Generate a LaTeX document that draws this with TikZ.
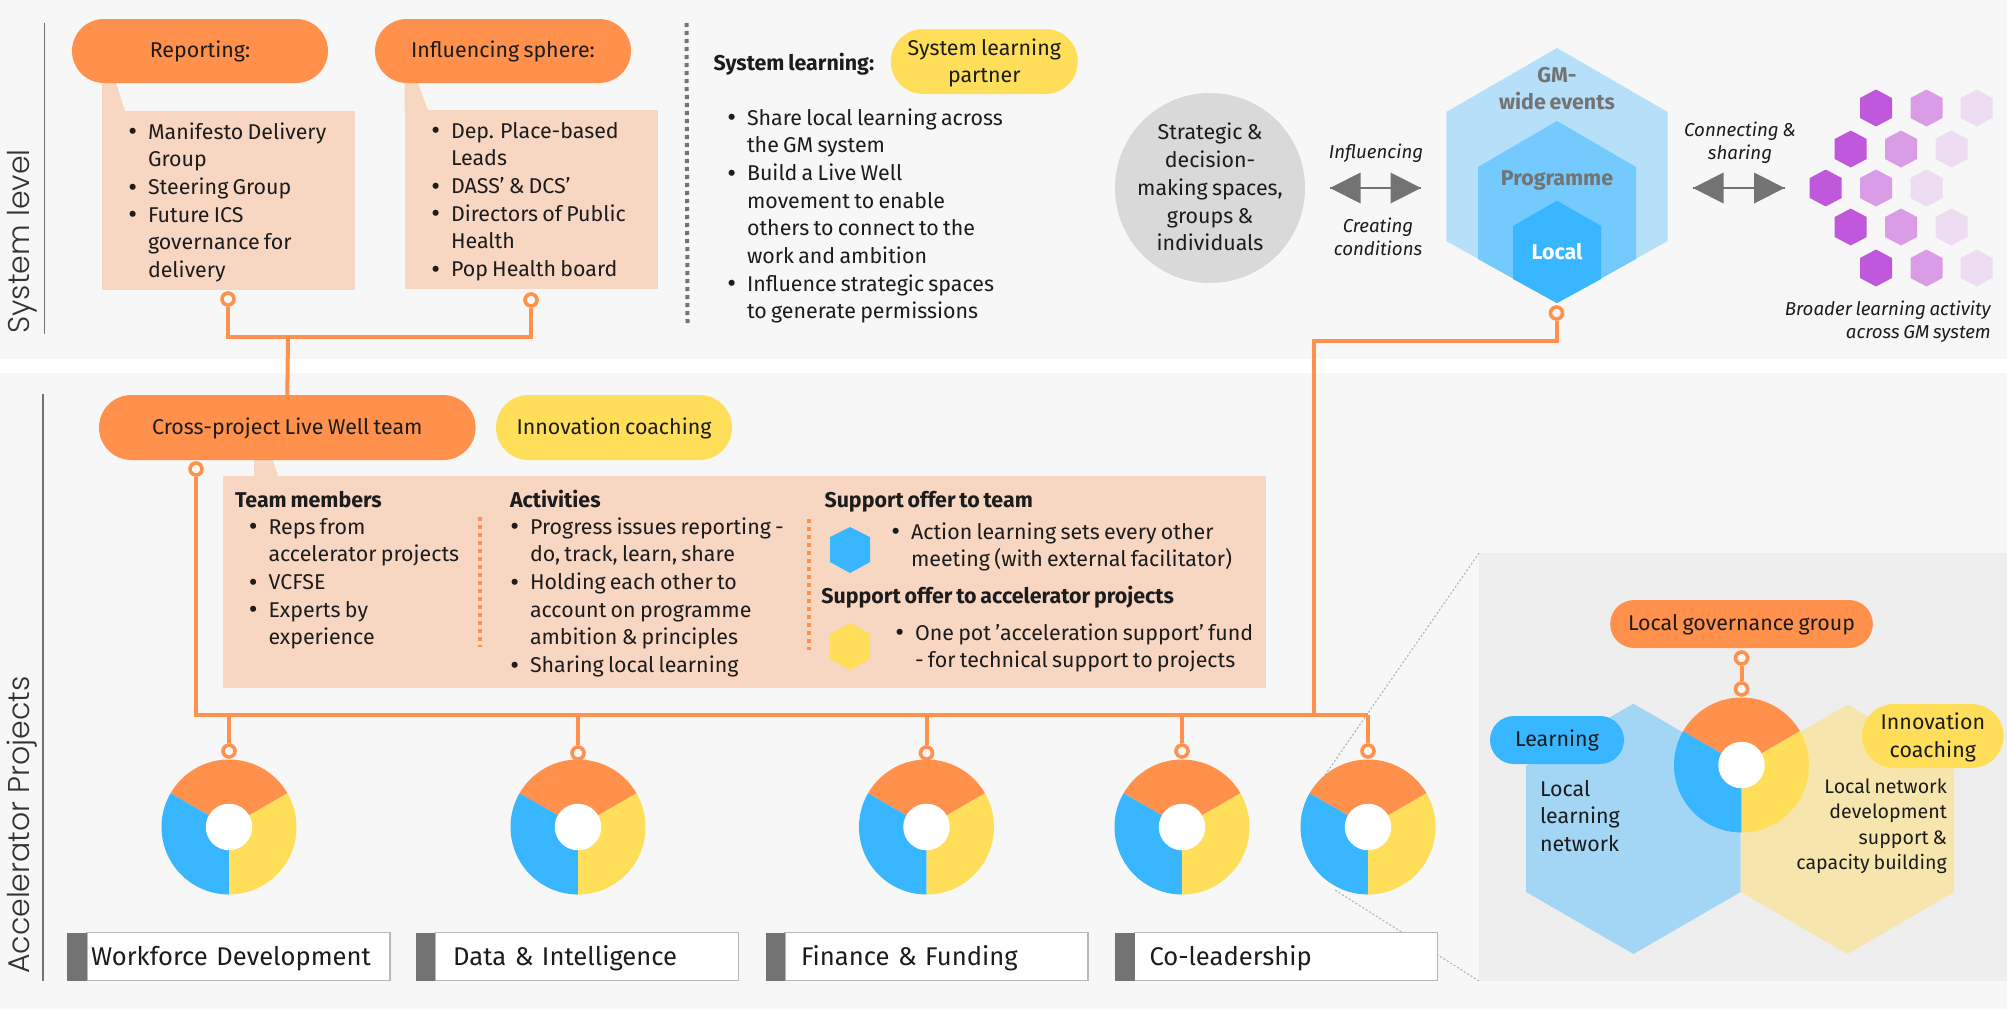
\documentclass[tikz,border=0pt]{standalone}
\usepackage{fontspec}
\setmainfont{Fira Sans}[WordSpace=0.75]
\newfontfamily\sidefont{Poppins Light}
\usetikzlibrary{shapes.misc,calc}
\definecolor{pagebg}{HTML}{F7F7F7}
\definecolor{panelbg}{HTML}{EEEEEE}
\definecolor{org}{HTML}{FF914D}
\definecolor{yel}{HTML}{FFDE59}
\definecolor{blu}{HTML}{38B6FF}
\definecolor{blumid}{HTML}{74C9FD}
\definecolor{blulite}{HTML}{B6DFFA}
\definecolor{notefill}{HTML}{F8D7C2}
\definecolor{gry}{HTML}{737373}
\definecolor{circgry}{HTML}{D9D9D9}
\definecolor{ink}{HTML}{1C1C1C}
\definecolor{pa}{HTML}{C058DC}
\definecolor{pb}{HTML}{DA9CE7}
\definecolor{pc}{HTML}{EEDCF3}
\definecolor{hexb}{HTML}{A3D5F5}
\definecolor{hexy}{HTML}{F6E6AE}
\newcommand{\fs}{\rule{0pt}{18pt}}
\newcommand{\fsi}{\rule{0pt}{16pt}}
\newcommand{\ftwo}{\rule{0pt}{19.3pt}}
\newcommand{\bl}{\llap{\raisebox{-1.6pt}{\fontsize{27}{27}\selectfont\textbullet}\hspace{11pt}}}
% hexagon: cx, top, shoulder, lower shoulder, bottom, half width, colour
\newcommand{\hexa}[7]{\fill[#7] (#1,#2) -- ({#1+#6},#3) -- ({#1+#6},#4) -- (#1,#5) -- ({#1-#6},#4) -- ({#1-#6},#3) -- cycle;}
\newcommand{\donut}[3]{%
  \fill[org] (#1,#2) -- ++(30:67.5 and -67.5) arc[start angle=-30,end angle=-150,radius=67.5] -- cycle;
  \fill[blu] (#1,#2) -- ++(150:67.5 and -67.5) arc[start angle=-150,end angle=-270,radius=67.5] -- cycle;
  \fill[yel] (#1,#2) -- ++(270:67.5 and -67.5) arc[start angle=-270,end angle=-390,radius=67.5] -- cycle;
  \node[hole] (#3) at (#1,#2) {};}
\tikzset{
  body/.style={inner sep=0pt,outer sep=0pt,text=ink,font=\fontsize{21.4}{27.7}\selectfont},
  listtxt/.style={body,anchor=north west,align=left,yshift=3pt},
  headtxt/.style={body,anchor=base west,font=\fontsize{21.4}{27.7}\selectfont\bfseries},
  pill/.style={rounded rectangle,inner sep=0pt,outer sep=0pt,text=ink,font=\fontsize{21.4}{27.7}\selectfont,align=center},
  pillo/.style={pill,fill=org},
  pilly/.style={pill,fill=yel},
  pillb/.style={pill,fill=blu},
  oneline/.style={text height=13.5pt,text depth=0pt},
  note/.style={fill=notefill},
  conn/.style={draw=org,line width=4pt},
  ring/.style={circle,draw=org,line width=3.6pt,fill=pagebg,minimum size=12pt,inner sep=0pt},
  hole/.style={circle,fill=white,minimum size=46.5pt,inner sep=0pt},
  ital/.style={inner sep=0pt,text=ink,font=\fontsize{18.7}{23.3}\selectfont\itshape,align=center,anchor=north,yshift=2.5pt},
  sidelab/.style={inner sep=0pt,text=black!80,font=\sidefont\fontsize{30}{30}\selectfont,rotate=90},
  dblarrow/.style={draw=gry,line width=2pt},
  tri/.style={fill=gry},
  labbox/.style={draw=black!28,line width=1.2pt,fill=white,inner sep=0pt,minimum height=48pt,text width=303pt,align=left,text=ink,font=\fontsize{25.6}{28}\selectfont,text height=17pt,text depth=0pt},
  labbar/.style={fill=gry,inner sep=0pt,minimum width=19.5pt,minimum height=48pt},
  zoomline/.style={draw=black!28,line width=1.2pt,dash pattern=on 2pt off 2pt},
}
\begin{document}
\begin{tikzpicture}[x=1pt,y=-1pt]
\useasboundingbox (0,0) rectangle (2007,1009);
% bands
\fill[pagebg] (0,0) rectangle (2007,359);
\fill[white] (0,359) rectangle (2007,373);
\fill[pagebg] (0,373) rectangle (2007,1009);
% side labels
\node[sidelab] (syslab) at (22,241.5) {System level};
\node[sidelab] (acclab) at (22,825) {Accelerator Projects};
\draw[gry,line width=1.6pt] (44.5,23) -- (44.5,334);
\draw[gry,line width=1.6pt] (43,394) -- (43,981);
% top notes
\fill[note] (102,83) -- (116,83) -- (125,111) -- (102,111) -- cycle;
\fill[note] (404.5,83) -- (418,83) -- (428,110) -- (404.5,110) -- cycle;
\node[note,anchor=north west,inner sep=0pt,minimum width=252.7pt,minimum height=179pt] (noteA) at (101.8,111) {};
\node[note,anchor=north west,inner sep=0pt,minimum width=253.1pt,minimum height=179pt] (noteB) at (404.5,110) {};
\node[pillo,oneline,minimum width=256pt,minimum height=64pt] (report) at (200,51) {Reporting:};
\node[pillo,oneline,minimum width=256pt,minimum height=64pt] (influ) at (503,51) {Influencing sphere:};
\node[listtxt] (listA) at (148,124) {\fs\bl Manifesto Delivery\\Group\\\bl Steering Group\\\bl Future ICS\\governance for\\delivery};
\node[listtxt] (listB) at (451,123) {\fs\bl Dep. Place-based\\Leads\\\bl DASS' \& DCS'\\\bl Directors of Public\\Health\\\bl Pop Health board};
% top connectors
\node[ring] (ra) at (228,299) {};
\node[ring] (rb) at (531,300) {};
\coordinate (tj) at (288,337);
\draw[conn] (ra) -- (ra |- tj) -- (rb |- tj) -- (rb);
% separator
\draw[gry,line width=4pt,dash pattern=on 4pt off 4pt] (686.5,23) -- (687.5,323);
% system learning
\node[headtxt] (syslearn) at (713.5,70) {System learning:};
\node[pilly,minimum width=187pt,minimum height=65pt] (slp) at (984.3,61.5) {\ftwo System learning\\partner};
\node[listtxt] (listC) at (747,110) {\fs\bl Share local learning across\\the GM system\\\bl Build a Live Well\\movement to enable\\others to connect to the\\work and ambition\\\bl Influence strategic spaces\\to generate permissions};
% strategic circle
\node[circle,fill=circgry,minimum size=190pt,inner sep=0pt] (strat) at (1210,188) {};
\node[inner sep=0pt,text=ink,align=center,font=\fontsize{21.4}{27.7}\selectfont] (strattxt) at (strat.center) {Strategic \&\\decision-\\making spaces,\\groups \&\\individuals\rule[-2pt]{0pt}{2pt}};
% hexagons
\hexa{1557}{48}{112}{241}{303}{110.7}{blulite}
\hexa{1557}{121}{167}{259}{303}{79}{blumid}
\hexa{1557}{200.7}{226}{279}{303}{44}{blu}
\node[inner sep=0pt,align=center,text=gry,anchor=north,yshift=3pt,font=\fontsize{21.4}{27.7}\selectfont\bfseries] (gmw) at (1557,67) {\fs GM-\\wide events};
\node[inner sep=0pt,text=gry,anchor=base,font=\fontsize{21.4}{27.7}\selectfont\bfseries] (prog) at (1557,185) {Programme};
\node[inner sep=0pt,text=white,anchor=base,font=\fontsize{21.4}{27.7}\selectfont\bfseries] (loc) at (1557,259) {Local};
% double arrows
\coordinate (a1) at (1330,188); \coordinate (a2) at (1421,188);
\coordinate (a3) at (1693,188); \coordinate (a4) at (1784.5,188);
\draw[dblarrow] (a1) -- (a2);
\draw[dblarrow] (a3) -- (a4);
\fill[tri] (a1) -- ++(30.5,-15.5) -- ++(0,31) -- cycle;
\fill[tri] (a2) -- ++(-30.5,-15.5) -- ++(0,31) -- cycle;
\fill[tri] (a3) -- ++(30.5,-15.5) -- ++(0,31) -- cycle;
\fill[tri] (a4) -- ++(-30.5,-15.5) -- ++(0,31) -- cycle;
\node[ital] (tinf) at (1376,144.5) {\fsi Influencing};
\node[ital] (tcre) at (1378,218.5) {\fsi Creating\\conditions};
\node[ital] (tcon) at (1740,122.5) {\fsi Connecting \&\\sharing};
\node[ital,align=right,anchor=north east] (tbro) at (1991,301.5) {\fsi Broader learning activity\\across GM system};
% purple hexagons
\foreach \cx/\cy/\col in {1876/108/pa,1926.5/108/pb,1976.5/108/pc,
  1850.7/149/pa,1901/149/pb,1951.5/149/pc,
  1825.7/188/pa,1876/188/pb,1926.5/188/pc,
  1850.7/227/pa,1901/227/pb,1951.5/227/pc,
  1876/268/pa,1926.5/268/pb,1976.5/268/pc}{
  \fill[\col] (\cx,\cy-18.5) -- (\cx+16,\cy-10) -- (\cx+16,\cy+10) -- (\cx,\cy+18.5) -- (\cx-16,\cy+10) -- (\cx-16,\cy-10) -- cycle;
}
% zoom panel
\fill[panelbg] (1479,553) rectangle (2007,981);
\draw[zoomline] (1479,553) -- (1325,775);
\draw[zoomline] (1479,981) -- (1335,890);
% cross-project
\fill[note] (254,458) -- (272,458) -- (278,476) -- (254,476) -- cycle;
\node[note,anchor=north west,inner sep=0pt,minimum width=1043.5pt,minimum height=212pt] (noteC) at (222.5,476) {};
\node[pillo,oneline,minimum width=376.6pt,minimum height=65pt] (cross) at (287.3,427.5) {Cross-project Live Well team};
\node[pilly,oneline,minimum width=236pt,minimum height=65pt] (innov) at (614,427.5) {Innovation coaching};
\draw[conn] (tj) -- (cross.north);
\node[headtxt] (hteam) at (235,507) {Team members};
\node[listtxt] (listD) at (268.5,519) {\fs\bl Reps from\\accelerator projects\\\bl VCFSE\\\bl Experts by\\experience};
\node[headtxt] (hact) at (510,507) {Activities};
\node[listtxt] (listE) at (530,519) {\fs\bl Progress issues reporting -\\do, track, learn, share\\\bl Holding each other to\\account on programme\\ambition \& principles\\\bl Sharing local learning};
\draw[org,line width=4pt,dash pattern=on 4pt off 4pt] (479.6,517) -- (479.6,647);
\draw[org,line width=4pt,dash pattern=on 4pt off 4pt] (808.5,519) -- (808.5,650);
\node[headtxt] (hsup) at (824.5,507) {Support offer to team};
\hexa{850}{527}{537}{562}{573}{20}{blu}
\node[listtxt] (listF) at (911,524) {\fs\bl Action learning sets every other\\meeting (with external facilitator)};
\node[headtxt] (hsup2) at (821.4,603) {Support offer to accelerator projects};
\hexa{850}{623}{634}{659}{670}{20}{yel}
\node[listtxt] (listG) at (915,625) {\fs\bl One pot 'acceleration support' fund\\- for technical support to projects};
% bus and rings
\coordinate (bus) at (0,715);
\node[ring] (rc) at (196,469) {};
\coordinate (busR) at (1368,715);
\draw[conn] (rc) -- (rc |- bus) -- (busR);
\node[ring] (d1r) at (229,751) {};
\node[ring] (d2r) at (578,753) {};
\node[ring] (d3r) at (926.5,753) {};
\node[ring] (d4r) at (1182,751) {};
\node[ring] (d5r) at (1368,751) {};
\foreach \r in {d1r,d2r,d3r,d4r,d5r}{\draw[conn] (\r |- bus) -- (\r);}
\node[ring] (rgm) at (1556.5,313) {};
\coordinate (gmj) at (1314,341);
\draw[conn] (rgm) -- (rgm |- gmj) -- (gmj) -- (gmj |- bus);
% donuts
\donut{229}{827}{d1}
\donut{578}{827}{d2}
\donut{926.5}{827}{d3}
\donut{1182}{827}{d4}
\donut{1368}{827}{d5}
% labels
\node[labbox] (l1) at (238.5,956.5) {\hspace*{4pt}Workforce Development};
\node[labbar] (b1) at (77,956.5) {};
\node[labbox] (l2) at (587,956.5) {\hspace*{17.6pt}Data \& Intelligence};
\node[labbar] (b2) at (425.7,956.5) {};
\node[labbox] (l3) at (936.5,956.5) {\hspace*{16pt}Finance \& Funding};
\node[labbar] (b3) at (775.3,956.5) {};
\node[labbox] (l4) at (1286,956.5) {\hspace*{15pt}Co-leadership};
\node[labbar] (b4) at (1125,956.5) {};
% zoom panel contents
\hexa{1633.4}{703.7}{766}{892}{954}{107.3}{hexb}
\hexa{1847.4}{704.7}{766}{892}{954}{106.6}{hexy}
\node[pillo,oneline,minimum width=262.7pt,minimum height=48pt] (lgov) at (1741.5,624) {Local governance group};
\node[ring] (rt) at (1741.5,658) {};
\node[ring] (rl) at (1741.5,689) {};
\draw[conn] (rt) -- (rl);
\donut{1741.5}{765}{d6}
\node[pillb,oneline,minimum width=134pt,minimum height=48pt] (lear) at (1557,740) {Learning};
\node[pilly,minimum width=141.6pt,minimum height=64pt] (innov2) at (1932.8,736) {\ftwo Innovation\\coaching};
\node[listtxt] (lln) at (1540,781) {\fs Local\\learning\\network};
\node[inner sep=0pt,text=ink,align=right,anchor=north east,yshift=3pt,font=\fontsize{19.6}{25.5}\selectfont] (lnd) at (1947,778) {\fs Local network\\development\hspace*{5pt}\\support \&\hspace*{5pt}\\capacity building};
\end{tikzpicture}
\end{document}
